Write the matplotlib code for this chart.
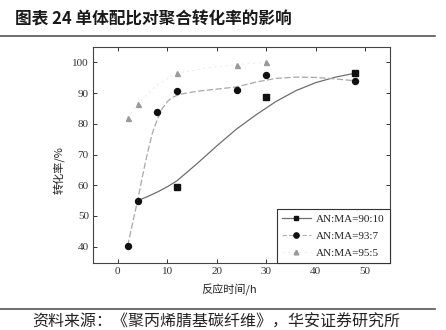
import matplotlib
matplotlib.use("Agg")
import matplotlib.pyplot as plt
from matplotlib.lines import Line2D

plt.rcParams['font.family'] = ['Liberation Serif', 'Noto Sans CJK SC', 'DejaVu Sans']
cjk = ['Noto Sans CJK SC', 'DejaVu Sans']

# measured conversion points
t_9010 = [12, 30, 48]
c_9010 = [59.3, 88.6, 96.6]
t_937 = [2, 4, 8, 12, 24, 30, 48]
c_937 = [40.3, 55, 83.9, 90.7, 91.0, 95.9, 93.9]
t_955 = [2, 4, 12, 24, 30]
c_955 = [81.8, 86.4, 96.4, 99.2, 100.1]

# fitted trend curves
fit_t_9010 = [4, 6, 8, 10, 12, 16, 20, 24, 28, 32, 36, 40, 44, 48]
fit_c_9010 = [55, 56.3, 57.8, 59.5, 61.5, 67.0, 72.8, 78.3, 83.0, 87.3, 90.8, 93.4, 95.2, 96.5]
fit_t_937 = [2, 4, 5, 6, 7, 8, 9, 10, 11, 12.5, 16, 20, 24, 28, 32, 36, 40, 44, 48]
fit_c_937 = [40.3, 55, 63, 70.5, 77, 81.5, 85, 87.2, 88.6, 89.6, 90.6, 91.3, 92.0, 93.6, 94.8, 95.2, 95.1, 94.6, 94.0]
fit_t_955 = [2, 4, 8, 12, 18, 24, 30]
fit_c_955 = [81.8, 86.4, 92.8, 96.4, 98.2, 99.2, 100.1]

labels = ['AN:MA=90:10', 'AN:MA=93:7', 'AN:MA=95:5']

fig = plt.figure(figsize=(4.46, 3.30), dpi=100)
fig.patch.set_facecolor('white')

fig.text(15 / 446, 1 - 19 / 330, '图表 24 单体配比对聚合转化率的影响', family=cjk,
         fontsize=12, fontweight='bold', color='#1a1a1a', va='center', ha='left')
fig.add_artist(Line2D([0, 435 / 446], [1 - 36 / 330] * 2, color='#555555', lw=1.2))
fig.add_artist(Line2D([0, 435 / 446], [1 - 309 / 330] * 2, color='#555555', lw=1.2))
fig.text(32 / 446, 1 - 322.5 / 330, '资料来源：《聚丙烯腈基碳纤维》，华安证券研究所', family=cjk,
         fontsize=11.5, color='#222222', va='center', ha='left')

ax = fig.add_axes([93 / 446, 67 / 330, 297 / 446, 216 / 330])

ax.plot(fit_t_9010, fit_c_9010, color='#6e6e6e', lw=0.9, zorder=2)
ax.plot(fit_t_937, fit_c_937, color='#a8a8a8', lw=0.9, ls=(0, (5, 2)), zorder=2)
ax.plot(fit_t_955, fit_c_955, color='#ededed', lw=0.8, ls=(0, (2, 3)), zorder=1)

ax.plot(t_9010, c_9010, ls='none', marker='s', ms=3.8, color='#111111', zorder=3)
ax.plot(t_937, c_937, ls='none', marker='o', ms=4.3, color='#111111', zorder=3)
ax.plot(t_955, c_955, ls='none', marker='^', ms=3.6, color='#9a9a9a', zorder=3)

handles = [
    Line2D([], [], color='#6e6e6e', lw=0.9, marker='s', ms=3.5, mfc='#111111', mec='#111111'),
    Line2D([], [], color='#b0b0b0', lw=0.8, ls=(0, (4, 2)), marker='o', ms=3.8, mfc='#111111', mec='#111111'),
    Line2D([], [], color='#eeeeee', lw=0.8, ls=(0, (2, 3)), marker='^', ms=3.4, mfc='#9a9a9a', mec='#9a9a9a'),
]
leg = ax.legend(handles, labels, loc='lower right', bbox_to_anchor=(1, 0), borderaxespad=0,
                fontsize=8, handlelength=2.6, handletextpad=0.5, labelspacing=0.65,
                borderpad=0.45, fancybox=False, framealpha=1, edgecolor='#333333')
leg.get_frame().set_linewidth(0.8)
for txt in leg.get_texts():
    txt.set_color('#222222')

ax.set_xlim(-5, 55)
ax.set_ylim(34.7, 105)
ax.set_xticks([0, 10, 20, 30, 40, 50])
ax.set_yticks([40, 50, 60, 70, 80, 90, 100])
ax.tick_params(direction='in', length=3, width=0.7, top=True, right=True,
               labelsize=8, colors='#333333', pad=3)
for s in ax.spines.values():
    s.set_color('#444444')
    s.set_linewidth(0.8)

ax.set_xlabel('反应时间/h', family=cjk, fontsize=8, color='#222222')
ax.set_ylabel('转化率/%', family=cjk, fontsize=8, color='#222222')
ax.xaxis.set_label_coords(0.46, -0.095)
ax.yaxis.set_label_coords(-0.095, 0.43)

fig.savefig('out.png', dpi=100, facecolor='white')
